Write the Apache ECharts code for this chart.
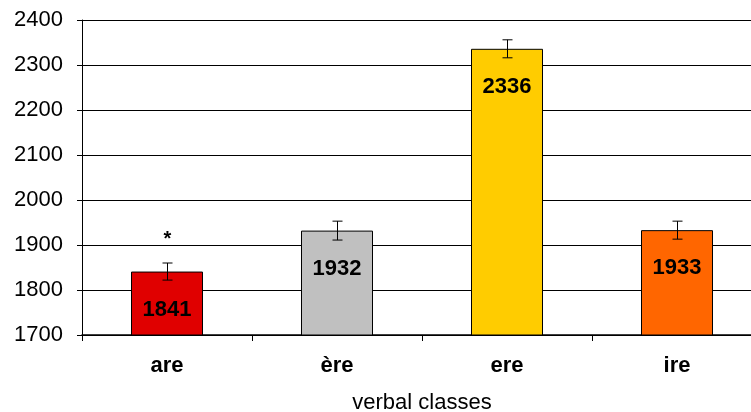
<!DOCTYPE html>
<html><head><meta charset="utf-8">
<script src="https://cdn.jsdelivr.net/npm/echarts@6/dist/echarts.min.js"></script>
<style>html,body{margin:0;padding:0;background:#fff}#c{width:751px;height:412px}</style>
</head><body><div id="c"></div>
<script>
const categories = ['are', 'ère', 'ere', 'ire'];
const values = [1841, 1932, 2336, 1933];
const errors = [19, 21, 20, 20];
const marks = ['*', '', '', ''];
const colors = ['#E00000', '#C0C0C0', '#FFCC00', '#FF6600'];
const yTicks = [1700, 1800, 1900, 2000, 2100, 2200, 2300, 2400];

const chart = echarts.init(document.getElementById('c'), null, {renderer: 'canvas'});
const font = 'Liberation Sans, Arial, sans-serif';
chart.setOption({
  animation: false,
  grid: {left: 82, top: 20, width: 680, height: 315, containLabel: false, outerBoundsMode: 'none'},
  xAxis: {
    type: 'category', data: categories,
    name: 'verbal classes', nameLocation: 'middle', nameGap: 57,
    nameTextStyle: {fontFamily: font, fontSize: 22, color: '#000'},
    axisLine: {lineStyle: {color: '#000', width: 1.5}},
    axisTick: {show: true, alignWithLabel: false, length: 6, lineStyle: {color: '#000'}},
    axisLabel: {fontFamily: font, fontSize: 22, fontWeight: 'bold', color: '#000', margin: 20}
  },
  yAxis: {
    type: 'value', min: yTicks[0], max: yTicks[yTicks.length - 1], interval: 100,
    axisLine: {show: true, lineStyle: {color: '#000'}},
    axisTick: {show: true, length: 5, lineStyle: {color: '#000'}},
    axisLabel: {fontFamily: font, fontSize: 22, color: '#000', margin: 19, formatter: v => String(v)},
    splitLine: {lineStyle: {color: '#000', width: 1}}
  },
  series: [
    {
      type: 'bar', barWidth: 72,
      data: values.map((v, i) => ({value: v, itemStyle: {color: colors[i]}})),
      itemStyle: {borderColor: '#000', borderWidth: 1},
      label: {show: true, position: 'insideTop', distance: 27, fontFamily: font,
              fontSize: 22, fontWeight: 'bold', color: '#000'}
    },
    {
      type: 'custom',
      data: values.map((v, i) => [i, v - errors[i], v + errors[i]]),
      renderItem: function (params, api) {
        const lo = api.coord([api.value(0), api.value(1)]);
        const hi = api.coord([api.value(0), api.value(2)]);
        const x = Math.round(lo[0]) + 0.5;
        const hw = 5;
        const children = [
          {type: 'line', shape: {x1: x, y1: hi[1], x2: x, y2: lo[1]}, style: {stroke: '#000', lineWidth: 1}},
          {type: 'line', shape: {x1: x - hw, y1: hi[1], x2: x + hw, y2: hi[1]}, style: {stroke: '#000', lineWidth: 1}},
          {type: 'line', shape: {x1: x - hw, y1: lo[1], x2: x + hw, y2: lo[1]}, style: {stroke: '#000', lineWidth: 1}}
        ];
        const m = marks[params.dataIndex];
        if (m) {
          children.push({type: 'text', style: {text: m, x: x, y: hi[1] - 24, align: 'center', verticalAlign: 'middle',
            font: 'bold 20px Liberation Sans, Arial, sans-serif', fill: '#000'}});
        }
        return {type: 'group', children: children};
      },
      z: 10
    }
  ]
});
</script></body></html>
